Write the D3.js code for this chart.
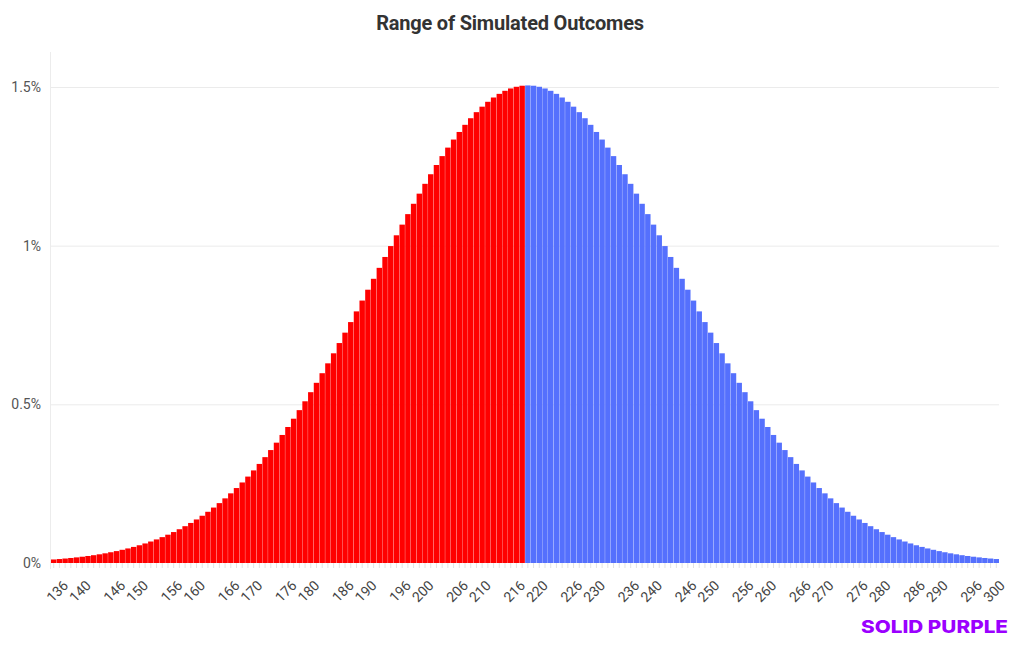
<!DOCTYPE html>
<html>
<head>
<meta charset="utf-8">
<script src="https://cdn.jsdelivr.net/npm/d3@7"></script>
<style>
  html, body { margin: 0; padding: 0; background: #fff; }
  svg { display: block; }
</style>
</head>
<body>
<svg id="chart" width="1020" height="650"></svg>
<script>
// ---- Data ----
const title = "Range of Simulated Outcomes";
const firstOutcome = 136;
const lastOutcome = 301;
const splitOutcome = 219; // first blue bar
// percent share of simulations for each outcome 136..301
const shares = [
  0.0111,
  0.0125, 0.0141, 0.0158, 0.0177, 0.0198, 0.0221, 0.0246, 0.0274, 0.0305, 0.0339,
  0.0375, 0.0416, 0.0459, 0.0507, 0.0559, 0.0616, 0.0677, 0.0743, 0.0815, 0.0892,
  0.0975, 0.1064, 0.1160, 0.1262, 0.1372, 0.1489, 0.1614, 0.1747, 0.1887, 0.2037,
  0.2195, 0.2362, 0.2538, 0.2723, 0.2918, 0.3122, 0.3336, 0.3559, 0.3792, 0.4035,
  0.4286, 0.4547, 0.4817, 0.5096, 0.5383, 0.5678, 0.5981, 0.6292, 0.6608, 0.6931,
  0.7259, 0.7592, 0.7929, 0.8270, 0.8612, 0.8956, 0.9301, 0.9644, 0.9987, 1.0327,
  1.0663, 1.0994, 1.1320, 1.1639, 1.1949, 1.2251, 1.2542, 1.2822, 1.3090, 1.3344,
  1.3583, 1.3808, 1.4016, 1.4207, 1.4380, 1.4534, 1.4669, 1.4784, 1.4880, 1.4954,
  1.5007, 1.5040,
  1.5050,
  1.5040, 1.5007, 1.4954, 1.4880, 1.4784, 1.4669, 1.4534, 1.4380, 1.4207, 1.4016,
  1.3808, 1.3583, 1.3344, 1.3090, 1.2822, 1.2542, 1.2251, 1.1949, 1.1639, 1.1320,
  1.0994, 1.0663, 1.0327, 0.9987, 0.9644, 0.9301, 0.8956, 0.8612, 0.8270, 0.7929,
  0.7592, 0.7259, 0.6931, 0.6608, 0.6292, 0.5981, 0.5678, 0.5383, 0.5096, 0.4817,
  0.4547, 0.4286, 0.4035, 0.3792, 0.3559, 0.3336, 0.3122, 0.2918, 0.2723, 0.2538,
  0.2362, 0.2195, 0.2037, 0.1887, 0.1747, 0.1614, 0.1489, 0.1372, 0.1262, 0.1160,
  0.1064, 0.0975, 0.0892, 0.0815, 0.0743, 0.0677, 0.0616, 0.0559, 0.0507, 0.0459,
  0.0416, 0.0375, 0.0339, 0.0305, 0.0274, 0.0246, 0.0221, 0.0198, 0.0177, 0.0158,
  0.0141, 0.0125
];
const outcomes = d3.range(firstOutcome, lastOutcome + 1);
const yTicks = [0, 0.5, 1, 1.5];
const yTickLabels = ["0%", "0.5%", "1%", "1.5%"];
const xLabelEndings = [0, 6]; // labelled outcomes end in 0 or 6
const xLabelMax = 300;
const colorLow = "#ff0000";
const colorHigh = "#5570fd";

(function draw() {
  const data = outcomes.map((o, i) => ({ outcome: o, share: shares[i] }));

  const svg = d3.select("#chart");
  const mLeft = 51, mRight = 999, mTop = 87, mBottom = 563;

  const x = d3.scaleBand().domain(outcomes).range([mLeft, mRight]).paddingInner(0.05).paddingOuter(0);
  const y = d3.scaleLinear().domain([0, 1.5]).range([mBottom, mTop]);

  // title
  svg.append("text")
    .attr("x", 510).attr("y", 30)
    .attr("text-anchor", "middle")
    .attr("font-family", "Roboto, 'Open Sans', sans-serif")
    .attr("font-weight", 700)
    .attr("font-size", 20)
    .attr("fill", "#333")
    .attr("letter-spacing", -0.2)
    .text(title);

  // gridlines
  svg.append("g").selectAll("line").data(yTicks.filter(d => d > 0)).join("line")
    .attr("x1", mLeft).attr("x2", mRight)
    .attr("y1", d => y(d) + 0.5).attr("y2", d => y(d) + 0.5)
    .attr("stroke", "#ebebeb").attr("stroke-width", 1);

  // vertical axis line
  svg.append("line")
    .attr("x1", mLeft - 0.5).attr("x2", mLeft - 0.5)
    .attr("y1", 52).attr("y2", mBottom + 6)
    .attr("stroke", "#ececec");

  // y axis labels
  const yAxis = d3.axisLeft(y).tickValues(yTicks)
    .tickFormat((d, i) => yTickLabels[i]).tickSize(0).tickPadding(10);
  const yg = svg.append("g").attr("transform", `translate(${mLeft},0)`).call(yAxis);
  yg.select(".domain").remove();
  yg.selectAll("text")
    .attr("font-family", "Roboto, sans-serif")
    .attr("font-size", 14)
    .attr("fill", "#555");

  // bars
  svg.append("g").selectAll("rect").data(data).join("rect")
    .attr("x", d => x(d.outcome))
    .attr("width", x.bandwidth())
    .attr("y", d => y(d.share))
    .attr("height", d => y(0) - y(d.share))
    .attr("fill", d => d.outcome < splitOutcome ? colorLow : colorHigh);

  // x axis with a small tick at every outcome
  const xAxis = d3.axisBottom(x).tickSize(5).tickPadding(4)
    .tickFormat(d => (d <= xLabelMax && xLabelEndings.includes(d % 10)) ? String(d) : "");
  const xg = svg.append("g").attr("transform", `translate(0,${mBottom})`).call(xAxis);
  xg.select(".domain").remove();
  xg.selectAll(".tick line").attr("stroke", "#e3e3e3");
  xg.selectAll(".tick text")
    .attr("font-family", "Roboto, sans-serif")
    .attr("font-size", 14)
    .attr("fill", "#444")
    .attr("text-anchor", "end")
    .attr("dy", 0)
    .attr("transform", "translate(9,17) rotate(-45)");

  // brand
  svg.append("text")
    .attr("x", 861).attr("y", 633)
    .attr("font-family", "Inter, Roboto, sans-serif")
    .attr("font-weight", 800)
    .attr("font-size", 17.5)
    .attr("textLength", 147)
    .attr("lengthAdjust", "spacingAndGlyphs")
    .attr("fill", "#9b00ff")
    .text("SOLID PURPLE");
})();
</script>
</body>
</html>
